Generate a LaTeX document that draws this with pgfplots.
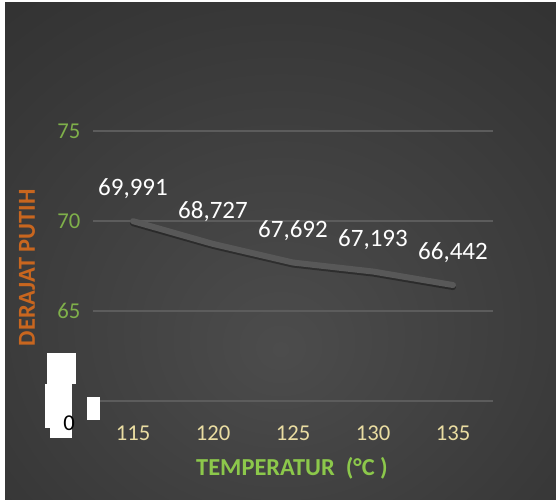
\documentclass[border=0pt]{standalone}
\usepackage{pgfplots}
\pgfplotsset{compat=1.18}
\usepackage{fontspec}
\setmainfont{Carlito}
\definecolor{bgA}{HTML}{4C4C4C}
\definecolor{bgB}{HTML}{383838}
\definecolor{bgC}{HTML}{262626}
\definecolor{ytk}{HTML}{7FB04A}
\definecolor{xtk}{HTML}{EADDA2}
\definecolor{ylab}{HTML}{C8661F}
\definecolor{xlab}{HTML}{8CC84B}
\definecolor{gridc}{HTML}{5C5C5C}
\definecolor{linec}{HTML}{585858}
\pgfdeclareradialshading{bgshade}{\pgfpoint{0bp}{-10bp}}{color(0bp)=(bgA); color(30bp)=(bgB); color(60bp)=(bgC); color(80bp)=(bgC)}
\pgfplotstableread{
x y lab
115 69.991 69,991
120 68.727 68,727
125 67.692 67,692
130 67.193 67,193
135 66.442 66,442
}\datatab
\begin{document}
\begin{tikzpicture}
\fill[white] (0,0) rectangle (417pt,374.25pt);
\shade[shading=bgshade] (3.75pt,0) rectangle (417pt,372pt);
\begin{axis}[
  at={(69.75pt,73.5pt)}, anchor=south west,
  scale only axis, width=300pt, height=202.5pt,
  xmin=112.5, xmax=137.5, ymin=60, ymax=75,
  axis line style={draw=none},
  xtick={115,120,125,130,135},
  ytick={60,65,70,75},
  yticklabels={{},65,70,75},
  tick style={draw=none},
  ymajorgrids, xmajorgrids=false,
  grid style={draw=gridc, line width=1.5pt},
  yticklabel style={font=\fontsize{17}{19}\selectfont, text=ytk, xshift=-6pt},
  xticklabel style={font=\fontsize{17}{19}\selectfont, text=xtk, yshift=-15pt},
  /pgf/number format/assume math mode=true,
  xlabel={TEMPERATUR\ \ (°C )},
  ylabel={DERAJAT PUTIH},
  xlabel style={font=\bfseries\fontsize{18.3}{20}\selectfont, text=xlab, at={(axis description cs:0.4975,-0.248)}, anchor=center},
  ylabel style={font=\bfseries\fontsize{18.3}{20}\selectfont, text=ylab, at={(axis description cs:-0.165,0.494)}, anchor=center},
  clip=false,
]
\addplot[draw=black, opacity=0.35, line width=4.5pt, line cap=round, line join=round, transform canvas={yshift=-1.5pt}] table[x=x,y=y] {\datatab};
\addplot[draw=linec, line width=4.5pt, line cap=round, line join=round,
  point meta=explicit symbolic,
  nodes near coords,
  nodes near coords style={font=\fontsize{18.75}{20}\selectfont, text=white, anchor=south, yshift=11pt}]
  table[x=x,y=y,meta=lab] {\datatab};
\end{axis}
\begin{scope}[x=0.75pt,y=-0.75pt,shift={(0,374.25pt)}]
\fill[white] (47,353) rectangle (76,384);
\fill[white] (45,384) rectangle (72,428);
\fill[white] (50,428) rectangle (72,438);
\fill[white] (87,397) rectangle (100,420);
\node[font=\fontsize{17}{19}\selectfont, text=black] at (69,423) {0};
\end{scope}
\end{tikzpicture}
\end{document}
